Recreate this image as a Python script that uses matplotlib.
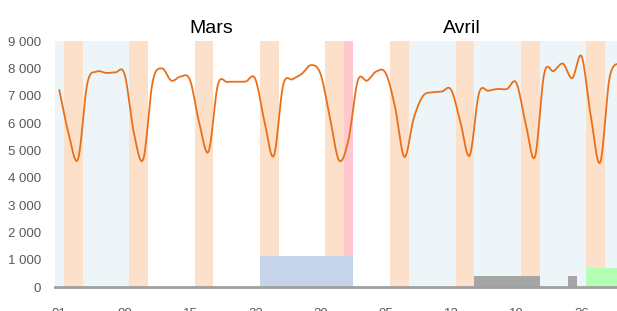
import numpy as np
import matplotlib
matplotlib.use("Agg")
import matplotlib.pyplot as plt
from matplotlib.ticker import FuncFormatter
import pandas as pd

# ---------------- data ----------------
start_date = "2024-03-01"
n_days = 61  # 2024-03-01 .. 2024-04-30

daily_values = [7200, 5600, 4680, 7450, 7880, 7830, 7850, 7780, 5620, 4680,
                7500, 8000, 7550, 7700, 7580, 6000, 4960, 7400, 7500, 7510,
                7520, 7620, 6050, 4800, 7390, 7600, 7800, 8120, 7800, 6230,
                4630, 5380, 7550, 7550, 7890, 7820, 6580, 4760, 6170, 6990,
                7120, 7150, 7220, 6050, 4810, 7090, 7180, 7245, 7245, 7470,
                5990, 4760, 7820, 7900, 8170, 7640, 8440, 6230, 4560, 7650,
                8200]

vacations = [("2024-03-01", "2024-03-10"), ("2024-04-06", "2024-04-30")]
holidays = ["2024-04-01"]

events = [("2024-03-23", "2024-04-01", 1140, "#c5d4e8"),
          ("2024-04-15", "2024-04-21", 400, "#a6a6a6"),
          ("2024-04-25", "2024-04-25", 400, "#a6a6a6"),
          ("2024-04-27", "2024-04-30", 700, "#b3ffb3")]

months = ["Mars", "Avril"]
month_label_day = [16.8, 43.7]
y_ticks = [0, 1000, 2000, 3000, 4000, 5000, 6000, 7000, 8000, 9000]

# ---------------- helpers ----------------
dates = pd.date_range(start_date, periods=n_days, freq="D")
t0 = dates[0]


def day_idx(s):
    return (pd.Timestamp(s) - t0).days


def smooth(xs, ys, n=20):
    # Catmull-Rom style bezier (like spreadsheet smoothed lines)
    xs = np.asarray(xs, float)
    ys = np.asarray(ys, float)
    px = np.concatenate([[xs[0]], xs, [xs[-1]]])
    py = np.concatenate([[ys[0]], ys, [ys[-1]]])
    ox, oy = [], []
    t = np.linspace(0, 1, n, endpoint=False)
    for i in range(1, len(px) - 2):
        p0 = np.array([px[i], py[i]])
        p3 = np.array([px[i + 1], py[i + 1]])
        c1 = p0 + (np.array([px[i + 1], py[i + 1]]) - np.array([px[i - 1], py[i - 1]])) / 6
        c2 = p3 - (np.array([px[i + 2], py[i + 2]]) - np.array([px[i], py[i]])) / 6
        b = ((1 - t) ** 3)[:, None] * p0 + (3 * (1 - t) ** 2 * t)[:, None] * c1 + \
            (3 * (1 - t) * t ** 2)[:, None] * c2 + (t ** 3)[:, None] * p3
        ox.extend(b[:, 0]); oy.extend(b[:, 1])
    ox.append(xs[-1]); oy.append(ys[-1])
    return np.array(ox), np.array(oy)


# ---------------- figure ----------------
plt.rcParams['font.family'] = ['Liberation Sans', 'DejaVu Sans']
fig = plt.figure(figsize=(6.17, 3.11), dpi=100)
ax = fig.add_axes([54.7 / 617, 24 / 311, 1 - 54.7 / 617, (287 - 41) / 311])

ymax = 9000
c_vac = "#edf5f9"
c_we = "#fce0ca"
c_hol = "#ffc7ce"

for s, e in vacations:
    ax.axvspan(day_idx(s), day_idx(e) + 1, color=c_vac, lw=0, zorder=0)
for i, d in enumerate(dates):
    if d.weekday() >= 5:
        ax.axvspan(i, i + 1, color=c_we, lw=0, zorder=1)
for h in holidays:
    ax.axvspan(day_idx(h), day_idx(h) + 1, color=c_hol, lw=0, zorder=1)

for s, e, v, c in events:
    a = day_idx(s)
    b = day_idx(e) + 1
    ax.bar(a, v, width=b - a, align="edge", color=c, lw=0, zorder=2)

x = np.arange(n_days) + 0.5
sx, sy = smooth(x, daily_values)
ax.plot(sx, sy, color="#e8701a", lw=1.3, zorder=4)

ax.set_xlim(0, 60.3)
ax.set_ylim(0, ymax)
ax.set_yticks(y_ticks)
ax.yaxis.set_major_formatter(FuncFormatter(lambda v, p: f"{int(v):,}".replace(",", " ")))
tick_days = list(range(0, n_days, 7))
ax.set_xticks([i + 0.5 for i in tick_days])
ax.set_xticklabels([dates[i].strftime("%d") for i in tick_days])

for sp in ["top", "right", "left"]:
    ax.spines[sp].set_visible(False)
ax.spines["bottom"].set_color("#a0a0a0")
ax.spines["bottom"].set_linewidth(2)
ax.spines["bottom"].set_zorder(5)
ax.tick_params(axis="both", length=0, labelsize=9.5, colors="#595959")
ax.tick_params(axis="x", pad=15)
ax.tick_params(axis="y", pad=10)

for m, d in zip(months, month_label_day):
    ax.text(d, 9460, m, ha="center", va="center", fontsize=14, color="#000000",
            clip_on=False)

fig.savefig("out.png", dpi=100)
